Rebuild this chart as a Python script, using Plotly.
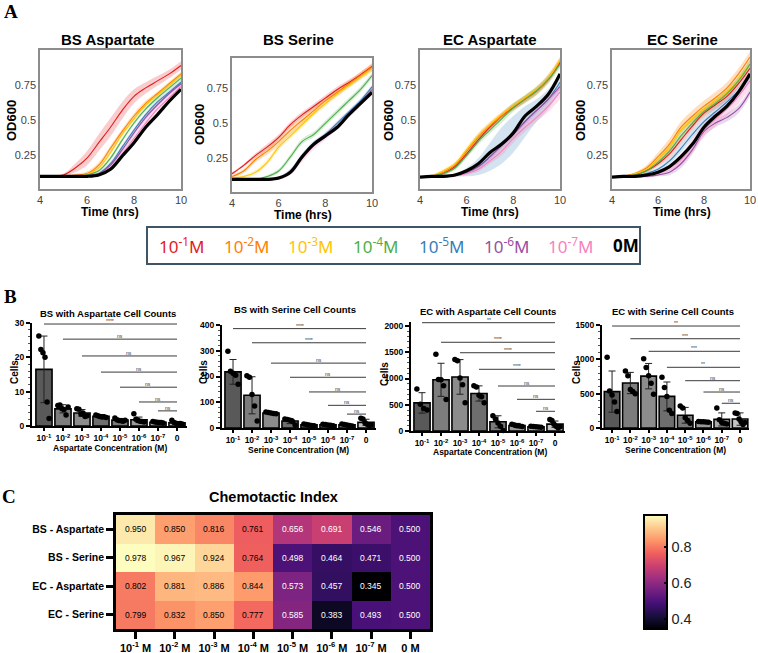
import plotly.graph_objects as go

W, H = 758, 653

# ---------------- Panel A data: growth curves ----------------
TIME = [4.0, 4.5, 5.0, 5.5, 6.0, 6.5, 7.0, 7.5, 8.0, 8.5, 9.0, 9.5, 10.0]
SERIES = ["10<sup>-1</sup>M", "10<sup>-2</sup>M", "10<sup>-3</sup>M", "10<sup>-4</sup>M",
          "10<sup>-5</sup>M", "10<sup>-6</sup>M", "10<sup>-7</sup>M", "<b>0M</b>"]
GROWTH_TITLES = ["BS Aspartate", "BS Serine", "EC Aspartate", "EC Serine"]
GROWTH_YTICKS = [0.25, 0.5, 0.75]
GROWTH_XTICKS = [4, 6, 8, 10]

BS_ASP_OD = [
    [0.10, 0.10, 0.11, 0.16, 0.23, 0.34, 0.45, 0.57, 0.67, 0.73, 0.78, 0.83, 0.89],
    [0.10, 0.10, 0.10, 0.11, 0.12, 0.18, 0.30, 0.42, 0.53, 0.62, 0.69, 0.76, 0.83],
    [0.10, 0.10, 0.10, 0.10, 0.115, 0.16, 0.27, 0.40, 0.51, 0.61, 0.68, 0.75, 0.82],
    [0.10, 0.10, 0.10, 0.10, 0.11, 0.14, 0.23, 0.36, 0.48, 0.58, 0.66, 0.73, 0.80],
    [0.10, 0.10, 0.10, 0.10, 0.105, 0.12, 0.19, 0.31, 0.43, 0.54, 0.63, 0.70, 0.77],
    [0.10, 0.10, 0.10, 0.10, 0.105, 0.12, 0.18, 0.29, 0.41, 0.52, 0.61, 0.69, 0.76],
    [0.10, 0.10, 0.10, 0.10, 0.10, 0.11, 0.16, 0.26, 0.37, 0.48, 0.58, 0.66, 0.74],
    [0.10, 0.10, 0.10, 0.10, 0.10, 0.11, 0.15, 0.245, 0.34, 0.45, 0.54, 0.635, 0.72],
]
BS_ASP_SD = [
    [0.005, 0.005, 0.01, 0.03, 0.05, 0.06, 0.065, 0.06, 0.05, 0.04, 0.035, 0.03, 0.03],
    [0, 0, 0.005, 0.01, 0.015, 0.02, 0.02, 0.02, 0.02, 0.02, 0.015, 0.015, 0.015],
    [0, 0, 0, 0.005, 0.01, 0.015, 0.015, 0.015, 0.015, 0.015, 0.015, 0.015, 0.015],
    [0, 0, 0, 0, 0.005, 0.01, 0.015, 0.015, 0.015, 0.015, 0.015, 0.015, 0.015],
    [0, 0, 0, 0, 0.005, 0.01, 0.015, 0.015, 0.015, 0.015, 0.015, 0.015, 0.015],
    [0, 0, 0, 0, 0.005, 0.01, 0.015, 0.02, 0.02, 0.02, 0.015, 0.015, 0.015],
    [0, 0, 0, 0, 0.005, 0.01, 0.02, 0.02, 0.02, 0.02, 0.015, 0.015, 0.015],
    [0, 0, 0, 0, 0, 0, 0, 0, 0, 0, 0, 0, 0],
]
BS_SER_OD = [
    [0.14, 0.20, 0.27, 0.33, 0.40, 0.49, 0.56, 0.62, 0.68, 0.74, 0.79, 0.845, 0.905],
    [0.12, 0.16, 0.24, 0.30, 0.37, 0.45, 0.52, 0.59, 0.66, 0.72, 0.78, 0.84, 0.90],
    [0.11, 0.12, 0.15, 0.22, 0.33, 0.41, 0.49, 0.57, 0.64, 0.71, 0.77, 0.83, 0.89],
    [0.10, 0.10, 0.10, 0.12, 0.16, 0.26, 0.37, 0.42, 0.50, 0.58, 0.66, 0.74, 0.84],
    [0.10, 0.10, 0.10, 0.10, 0.11, 0.16, 0.27, 0.36, 0.42, 0.50, 0.58, 0.66, 0.76],
    [0.10, 0.10, 0.10, 0.10, 0.11, 0.15, 0.26, 0.35, 0.41, 0.48, 0.57, 0.65, 0.74],
    [0.10, 0.10, 0.10, 0.10, 0.11, 0.15, 0.25, 0.34, 0.41, 0.48, 0.56, 0.64, 0.73],
    [0.10, 0.10, 0.10, 0.10, 0.11, 0.15, 0.26, 0.35, 0.41, 0.47, 0.56, 0.64, 0.72],
]
BS_SER_SD = [
    [0.01, 0.01, 0.015, 0.02, 0.02, 0.02, 0.02, 0.02, 0.02, 0.02, 0.02, 0.02, 0.02],
    [0.01, 0.015, 0.02, 0.025, 0.03, 0.03, 0.03, 0.025, 0.025, 0.025, 0.025, 0.025, 0.03],
    [0.005, 0.01, 0.015, 0.02, 0.02, 0.02, 0.02, 0.02, 0.02, 0.02, 0.02, 0.02, 0.02],
    [0, 0, 0.005, 0.01, 0.015, 0.02, 0.02, 0.02, 0.02, 0.02, 0.02, 0.02, 0.02],
    [0, 0, 0, 0.005, 0.01, 0.015, 0.015, 0.015, 0.015, 0.015, 0.015, 0.015, 0.015],
    [0, 0, 0, 0.005, 0.01, 0.015, 0.015, 0.015, 0.015, 0.015, 0.015, 0.015, 0.015],
    [0, 0, 0, 0.005, 0.01, 0.02, 0.025, 0.025, 0.025, 0.025, 0.02, 0.02, 0.02],
    [0, 0, 0, 0, 0, 0, 0, 0, 0, 0, 0, 0, 0],
]
EC_ASP_OD = [
    [0.095, 0.10, 0.12, 0.17, 0.26, 0.36, 0.45, 0.53, 0.59, 0.65, 0.71, 0.79, 0.91],
    [0.095, 0.10, 0.13, 0.18, 0.28, 0.38, 0.46, 0.53, 0.60, 0.65, 0.71, 0.80, 0.92],
    [0.095, 0.105, 0.14, 0.19, 0.29, 0.39, 0.47, 0.54, 0.60, 0.66, 0.72, 0.80, 0.93],
    [0.095, 0.10, 0.12, 0.16, 0.25, 0.35, 0.43, 0.51, 0.59, 0.65, 0.71, 0.79, 0.90],
    [0.095, 0.10, 0.10, 0.11, 0.13, 0.17, 0.24, 0.32, 0.40, 0.49, 0.57, 0.65, 0.77],
    [0.095, 0.10, 0.10, 0.11, 0.13, 0.17, 0.24, 0.32, 0.40, 0.49, 0.57, 0.65, 0.74],
    [0.095, 0.10, 0.10, 0.105, 0.12, 0.15, 0.21, 0.28, 0.37, 0.45, 0.52, 0.60, 0.70],
    [0.095, 0.10, 0.10, 0.11, 0.14, 0.19, 0.27, 0.33, 0.41, 0.53, 0.60, 0.685, 0.83],
]
EC_ASP_SD = [
    [0, 0, 0.01, 0.015, 0.02, 0.02, 0.02, 0.02, 0.02, 0.02, 0.02, 0.02, 0.02],
    [0, 0.005, 0.01, 0.015, 0.02, 0.025, 0.025, 0.025, 0.025, 0.025, 0.03, 0.03, 0.03],
    [0, 0.005, 0.01, 0.015, 0.02, 0.02, 0.02, 0.02, 0.02, 0.02, 0.02, 0.02, 0.02],
    [0, 0.005, 0.01, 0.015, 0.02, 0.025, 0.025, 0.03, 0.03, 0.03, 0.03, 0.03, 0.03],
    [0, 0, 0.005, 0.01, 0.03, 0.06, 0.10, 0.13, 0.13, 0.11, 0.08, 0.07, 0.06],
    [0, 0, 0.005, 0.01, 0.01, 0.015, 0.02, 0.02, 0.02, 0.02, 0.02, 0.02, 0.02],
    [0, 0, 0.005, 0.01, 0.01, 0.015, 0.02, 0.03, 0.03, 0.03, 0.03, 0.04, 0.05],
    [0, 0, 0, 0, 0, 0, 0, 0, 0, 0, 0, 0, 0],
]
EC_SER_OD = [
    [0.095, 0.10, 0.11, 0.14, 0.19, 0.26, 0.36, 0.46, 0.55, 0.61, 0.67, 0.76, 0.87],
    [0.095, 0.10, 0.12, 0.16, 0.24, 0.33, 0.45, 0.53, 0.60, 0.66, 0.73, 0.83, 0.95],
    [0.095, 0.10, 0.12, 0.15, 0.22, 0.31, 0.43, 0.51, 0.58, 0.64, 0.70, 0.79, 0.90],
    [0.095, 0.10, 0.11, 0.14, 0.20, 0.28, 0.39, 0.48, 0.56, 0.62, 0.69, 0.78, 0.90],
    [0.095, 0.10, 0.10, 0.12, 0.15, 0.21, 0.30, 0.40, 0.49, 0.56, 0.63, 0.71, 0.81],
    [0.095, 0.10, 0.10, 0.10, 0.11, 0.13, 0.19, 0.29, 0.42, 0.48, 0.52, 0.58, 0.70],
    [0.095, 0.10, 0.10, 0.11, 0.12, 0.16, 0.22, 0.32, 0.43, 0.51, 0.58, 0.67, 0.78],
    [0.095, 0.10, 0.10, 0.11, 0.13, 0.17, 0.24, 0.33, 0.45, 0.53, 0.60, 0.70, 0.83],
]
EC_SER_SD = [
    [0, 0, 0.005, 0.01, 0.02, 0.03, 0.03, 0.03, 0.03, 0.03, 0.03, 0.03, 0.03],
    [0, 0.005, 0.01, 0.02, 0.03, 0.04, 0.04, 0.04, 0.04, 0.04, 0.04, 0.04, 0.04],
    [0, 0.005, 0.01, 0.015, 0.02, 0.025, 0.025, 0.025, 0.025, 0.025, 0.025, 0.025, 0.025],
    [0, 0.005, 0.01, 0.015, 0.02, 0.025, 0.03, 0.03, 0.03, 0.03, 0.03, 0.03, 0.03],
    [0, 0, 0.005, 0.01, 0.015, 0.02, 0.03, 0.03, 0.03, 0.03, 0.03, 0.03, 0.03],
    [0, 0, 0.005, 0.01, 0.01, 0.02, 0.03, 0.03, 0.03, 0.03, 0.03, 0.03, 0.03],
    [0, 0, 0.005, 0.01, 0.015, 0.02, 0.04, 0.05, 0.05, 0.05, 0.05, 0.05, 0.05],
    [0, 0, 0, 0, 0, 0, 0, 0, 0, 0, 0, 0, 0],
]

# ---------------- Panel B data: cell counts ----------------
COUNT_TITLES = ["BS with Aspartate Cell Counts", "BS with Serine Cell Counts",
                "EC with Aspartate Cell Counts", "EC with Serine Cell Counts"]
COUNT_XTITLES = ["Aspartate Concentration (M)", "Serine Concentration (M)",
                 "Aspartate Concentration (M)", "Serine Concentration (M)"]
COUNT_TICKS = ["10<sup>-1</sup>", "10<sup>-2</sup>", "10<sup>-3</sup>", "10<sup>-4</sup>",
               "10<sup>-5</sup>", "10<sup>-6</sup>", "10<sup>-7</sup>", "0"]

BS_ASP_MEAN = [16.5, 5.0, 3.8, 2.8, 1.7, 1.8, 1.1, 0.9]
BS_ASP_ERR = [9.7, 1.2, 1.0, 0.5, 0.5, 0.8, 0.3, 0.4]
BS_ASP_PTS = [[26.2, 22.3, 21.3, 20.0, 7.0, 2.2], [6.0, 6.1, 5.0, 4.8, 3.2, 5.5],
              [5.0, 4.9, 3.5, 3.8, 2.8, 3.0], [3.2, 3.0, 2.8, 2.6, 2.7, 2.5],
              [2.3, 1.8, 1.6, 1.5, 1.4, 1.7], [3.6, 2.0, 1.6, 1.4, 1.3, 1.2],
              [1.3, 1.2, 1.1, 1.0, 1.0, 0.9], [1.7, 1.0, 0.8, 0.6, 0.7, 0.6]]
BS_ASP_SIG_Y = [29.7, 25.3, 20.4, 15.7, 11.3, 7.0, 4.4]
BS_ASP_SIG = ["****", "ns", "ns", "ns", "ns", "ns", "ns"]

BS_SER_MEAN = [218, 127, 58, 27, 12, 12, 12, 22]
BS_SER_ERR = [48, 72, 4, 10, 4, 4, 5, 12]
BS_SER_PTS = [[298, 220, 213, 205, 170], [203, 197, 130, 85, 27], [62, 60, 58, 56, 55],
              [35, 33, 30, 25, 12], [16, 14, 12, 10, 9], [15, 14, 12, 11, 9],
              [16, 14, 12, 10, 8], [38, 35, 20, 15, 10, 12]]
BS_SER_SIG_Y = [386, 331, 252, 197, 140, 88, 54]
BS_SER_SIG = ["****", "****", "ns", "ns", "ns", "ns", "ns"]

EC_ASP_MEAN = [535, 975, 1030, 715, 175, 105, 80, 130]
EC_ASP_ERR = [195, 315, 330, 145, 115, 40, 15, 60]
EC_ASP_PTS = [[800, 510, 430, 400], [1460, 980, 975, 860, 600], [1360, 1340, 1010, 880, 540],
              [860, 840, 680, 650, 540], [290, 230, 150, 90, 10], [130, 115, 100, 95, 85],
              [90, 85, 80, 75, 70], [220, 200, 130, 90, 60, 80]]
EC_ASP_SIG_Y = [2063, 1690, 1491, 1175, 857, 603, 375]
EC_ASP_SIG = ["**", "****", "****", "****", "ns", "ns", "ns"]

EC_SER_MEAN = [530, 655, 755, 460, 185, 90, 125, 130]
EC_SER_ERR = [300, 155, 185, 210, 115, 10, 95, 90]
EC_SER_PTS = [[1030, 540, 480, 380, 240], [830, 760, 560, 530, 500], [1010, 880, 760, 650, 490],
              [740, 590, 460, 260, 210], [320, 290, 150, 110, 70], [95, 92, 90, 88, 85],
              [290, 120, 80, 70, 60], [220, 210, 130, 90, 50, 80]]
EC_SER_SIG_Y = [1485, 1300, 1117, 884, 689, 524, 360]
EC_SER_SIG = ["**", "***", "***", "**", "ns", "ns", "ns"]

# ---------------- Panel C data: chemotactic index ----------------
CI_ROWS = ["BS - Aspartate", "BS - Serine", "EC - Aspartate", "EC - Serine"]
CI_COLS = ["10<sup>-1</sup> M", "10<sup>-2</sup> M", "10<sup>-3</sup> M", "10<sup>-4</sup> M",
           "10<sup>-5</sup> M", "10<sup>-6</sup> M", "10<sup>-7</sup> M", "0 M"]
CI = [[0.950, 0.850, 0.816, 0.761, 0.656, 0.691, 0.546, 0.500],
      [0.978, 0.967, 0.924, 0.764, 0.498, 0.464, 0.471, 0.500],
      [0.802, 0.881, 0.886, 0.844, 0.573, 0.457, 0.345, 0.500],
      [0.799, 0.832, 0.850, 0.777, 0.585, 0.383, 0.493, 0.500]]

# ---------------- styling ----------------
LINE_COLORS = ['#e41a1c', '#ff7f00', '#ffc400', '#4daf4a', '#377eb8', '#984ea3', '#f781bf', '#000000']
BAND_COLORS = ['rgba(228,26,28,0.22)', 'rgba(255,127,0,0.25)', 'rgba(255,196,0,0.25)',
               'rgba(77,175,74,0.22)', 'rgba(55,126,184,0.22)', 'rgba(152,78,163,0.22)',
               'rgba(247,129,191,0.28)', 'rgba(0,0,0,0)']
BAR_SHADES = ['#595959', '#7d7d7d', '#8c8c8c', '#6e6e6e', '#7a7a7a', '#999999', '#ababab', '#c4c4c4']
SANS = "Liberation Sans, Arial, sans-serif"
SERIF = "Liberation Serif, Times New Roman, serif"


def px(x):
    return x / W


def py(y):
    return 1 - y / H


fig = go.Figure()
layout = dict(width=W, height=H, margin=dict(l=0, r=0, t=0, b=0, autoexpand=False),
              paper_bgcolor='white', plot_bgcolor='white', showlegend=False)
annotations = []
shapes = []


def ann(x, y, text, size, color='black', family=SANS, weight='normal', angle=0, xanchor='center'):
    annotations.append(dict(x=px(x), y=py(y), xref='paper', yref='paper', text=text, showarrow=False,
                            font=dict(size=size, color=color, family=family, weight=weight),
                            textangle=angle, xanchor=xanchor, yanchor='middle'))


# ---------------- Panel A ----------------
GA_BOX = [(40, 181, 50, 189, [0.01, 1.0]), (232, 372, 58, 192, [0.01, 0.966]),
          (420, 560, 50, 189, [0.01, 1.0]), (612, 750, 50, 189, [0.01, 1.0])]
GA_OD = [BS_ASP_OD, BS_SER_OD, EC_ASP_OD, EC_SER_OD]
GA_SD = [BS_ASP_SD, BS_SER_SD, EC_ASP_SD, EC_SER_SD]
GA_TITLE_POS = [(108, 40), (298, 40), (490, 40), (682, 40)]
GA_XT_POS = [(110, 212), (303, 215), (490, 212), (682, 212)]
GA_YT_POS = [(11, 121), (200, 125), (388, 121), (580, 121)]

for i in range(4):
    k = i + 1
    xa, ya = f'x{k}', f'y{k}'
    x0, x1, yt, yb, yr = GA_BOX[i]
    od, sd = GA_OD[i], GA_SD[i]
    for s in range(8):
        if max(sd[s]) == 0:
            continue
        up = [a + b for a, b in zip(od[s], sd[s])]
        lo = [a - b for a, b in zip(od[s], sd[s])]
        fig.add_trace(go.Scatter(x=TIME, y=up, xaxis=xa, yaxis=ya, mode='lines',
                                 line=dict(width=0, shape='spline', color=BAND_COLORS[s]),
                                 hoverinfo='skip'))
        fig.add_trace(go.Scatter(x=TIME, y=lo, xaxis=xa, yaxis=ya, mode='lines', fill='tonexty',
                                 fillcolor=BAND_COLORS[s],
                                 line=dict(width=0, shape='spline', color=BAND_COLORS[s]),
                                 hoverinfo='skip'))
    for s in range(8):
        fig.add_trace(go.Scatter(x=TIME, y=od[s], xaxis=xa, yaxis=ya, mode='lines', name=SERIES[s],
                                 line=dict(width=3.2 if s == 7 else 1.1, shape='spline',
                                           color=LINE_COLORS[s])))
    layout[f'xaxis{k}'] = dict(domain=[px(x0), px(x1)], range=[4, 10], anchor=ya, tickvals=GROWTH_XTICKS,
                               showline=True, mirror=True, linecolor='#8c8c8c', linewidth=1.5,
                               showgrid=False, zeroline=False, ticks='', tickangle=0, automargin=False,
                               ticklabeloverflow='allow',
                               tickfont=dict(family=SANS, size=11, color='#444'))
    layout[f'yaxis{k}'] = dict(domain=[py(yb), py(yt)], range=yr, anchor=xa, tickvals=GROWTH_YTICKS,
                               ticktext=['0.25', '0.5', '0.75'], automargin=False,
                               ticklabeloverflow='allow',
                               showline=True, mirror=True, linecolor='#8c8c8c', linewidth=1.5,
                               showgrid=False, zeroline=False, ticks='',
                               tickfont=dict(family=SANS, size=11, color='#444'))
    ann(*GA_TITLE_POS[i], GROWTH_TITLES[i], 15, weight='bold')
    ann(*GA_XT_POS[i], "Time (hrs)", 12, weight='bold')
    ann(*GA_YT_POS[i], "OD600", 13, weight='bold', angle=-90)

# legend box
shapes.append(dict(type='rect', xref='paper', yref='paper', x0=px(147), x1=px(640), y0=py(264), y1=py(227),
                   line=dict(color='#3f5565', width=2), fillcolor='rgba(0,0,0,0)'))
LEG_X = [182, 247, 311, 376, 442, 507, 571, 626]
for s in range(8):
    ann(LEG_X[s], 245, SERIES[s], 17, color=LINE_COLORS[s], family="Noto Sans, Open Sans, sans-serif")

# ---------------- Panel B ----------------
GB_BOX = [(32, 186.5, 323, 426, [-0.63, 7.5], [0, 30], 10, 2),
          (222, 375.5, 325, 428, [-0.58, 7.5], [0, 400], 100, 20),
          (411, 564.5, 321.8, 431, [-0.58, 7.5], [0, 2080], 500, 100),
          (602, 749.2, 325, 428, [-0.55, 7.5], [0, 1500], 500, 100)]
GB_MEAN = [BS_ASP_MEAN, BS_SER_MEAN, EC_ASP_MEAN, EC_SER_MEAN]
GB_ERR = [BS_ASP_ERR, BS_SER_ERR, EC_ASP_ERR, EC_SER_ERR]
GB_PTS = [BS_ASP_PTS, BS_SER_PTS, EC_ASP_PTS, EC_SER_PTS]
GB_SIG_Y = [BS_ASP_SIG_Y, BS_SER_SIG_Y, EC_ASP_SIG_Y, EC_SER_SIG_Y]
GB_SIG = [BS_ASP_SIG, BS_SER_SIG, EC_ASP_SIG, EC_SER_SIG]
GB_TITLE_POS = [(108, 313), (295, 310), (488, 312), (673, 312)]
GB_XT_POS = [(110, 448), (298, 450), (490, 452), (675, 450)]
GB_YT_POS = [(14, 372), (203, 372), (384, 374), (576, 372)]

for i in range(4):
    k = i + 5
    xa, ya = f'x{k}', f'y{k}'
    x0, x1, yt, yb, xr, yr, dt, mdt = GB_BOX[i]
    cats = list(range(8))
    fig.add_trace(go.Bar(x=cats, y=GB_MEAN[i], xaxis=xa, yaxis=ya, width=0.85,
                         marker=dict(color=BAR_SHADES, line=dict(color='black', width=1.6)),
                         error_y=dict(type='data', array=GB_ERR[i], color='#222', thickness=1, width=3.5),
                         hoverinfo='skip'))
    px_pts, py_pts = [], []
    for c, pts in enumerate(GB_PTS[i]):
        n = len(pts)
        for j, v in enumerate(pts):
            off = -0.27 + 0.54 * j / (n - 1) if n > 1 else 0
            px_pts.append(c + off)
            py_pts.append(v)
    fig.add_trace(go.Scatter(x=px_pts, y=py_pts, xaxis=xa, yaxis=ya, mode='markers',
                             marker=dict(color='black', size=5.5), cliponaxis=False, hoverinfo='skip'))
    for j, (yv, lab) in enumerate(zip(GB_SIG_Y[i], GB_SIG[i])):
        shapes.append(dict(type='line', xref=xa, yref=ya, x0=j, x1=7, y0=yv, y1=yv,
                           line=dict(color='#3a3a3a', width=1)))
        annotations.append(dict(x=(j + 7) / 2, y=yv, xref=xa, yref=ya, text=lab, showarrow=False,
                                yshift=3, font=dict(size=5, color='#333', family=SANS)))
    layout[f'xaxis{k}'] = dict(domain=[px(x0), px(x1)], range=xr, anchor=ya, tickvals=cats,
                               ticktext=COUNT_TICKS, showline=True, linecolor='black', linewidth=2,
                               ticks='outside', ticklen=3, tickwidth=1.5, tickcolor='black',
                               showgrid=False, zeroline=False, tickangle=0, automargin=False,
                               ticklabeloverflow='allow',
                               tickfont=dict(family=SANS, size=8.5, color='black', weight='bold'))
    layout[f'yaxis{k}'] = dict(domain=[py(yb), py(yt)], range=yr, anchor=xa, dtick=dt,
                               showline=True, linecolor='black', linewidth=2, automargin=False,
                               ticklabeloverflow='allow',
                               ticks='outside', ticklen=4, tickwidth=1.5, tickcolor='black',
                               minor=dict(ticks='outside', ticklen=2, tickwidth=1, dtick=mdt,
                                          tickcolor='#555'),
                               showgrid=False, zeroline=False,
                               tickfont=dict(family=SANS, size=8.5, color='black', weight='bold'))
    ann(*GB_TITLE_POS[i], COUNT_TITLES[i], 9.5, weight='bold')
    ann(*GB_XT_POS[i], COUNT_XTITLES[i], 8.5, weight='bold')
    ann(*GB_YT_POS[i], "Cells", 10, weight='bold', angle=-90)

# ---------------- Panel C ----------------
fig.add_trace(go.Heatmap(z=CI, x=list(range(8)), y=list(range(4)), xaxis='x9', yaxis='y9',
                         colorscale='Magma', zmin=0.345, zmax=0.978, hoverinfo='skip',
                         colorbar=dict(x=px(644), xanchor='left', y=py(572), yanchor='middle',
                                       len=114 / H, lenmode='fraction', thickness=23,
                                       thicknessmode='pixels', xpad=0, ypad=0,
                                       outlinewidth=2, outlinecolor='black',
                                       tickvals=[0.4, 0.6, 0.8], ticktext=['0.4', '0.6', '0.8'],
                                       ticks='inside', ticklen=4, tickwidth=2, tickcolor='black',
                                       tickfont=dict(family=SANS, size=14.5, color='#222'))))
for r in range(4):
    for c in range(8):
        v = CI[r][c]
        annotations.append(dict(x=c, y=r, xref='x9', yref='y9', text=f"{v:.3f}", showarrow=False,
                                font=dict(size=8.5, family=SANS, color='black' if v > 0.7 else 'white')))
layout['xaxis9'] = dict(domain=[px(116), px(430)], range=[-0.5, 7.5], anchor='y9', tickvals=list(range(8)),
                        ticktext=CI_COLS, showline=True, mirror=True, linecolor='black', linewidth=2.5,
                        ticks='outside', ticklen=7, tickwidth=2.5, tickcolor='black', automargin=False,
                        ticklabeloverflow='allow',
                        showgrid=False, zeroline=False, tickangle=0,
                        tickfont=dict(family=SANS, size=11, color='black', weight='bold'))
layout['yaxis9'] = dict(domain=[py(629), py(515)], range=[3.5, -0.5], anchor='x9', tickvals=list(range(4)),
                        ticktext=CI_ROWS, showline=True, mirror=True, linecolor='black', linewidth=2.5,
                        ticks='outside', ticklen=7, tickwidth=2.5, tickcolor='black', automargin=False,
                        ticklabeloverflow='allow',
                        showgrid=False, zeroline=False,
                        tickfont=dict(family=SANS, size=10.5, color='black', weight='bold'))
ann(273, 497, "Chemotactic Index", 14.5, weight='bold')

# panel letters
ann(11, 12, "A", 19, family=SERIF, weight='bold')
ann(10, 296, "B", 19, family=SERIF, weight='bold')
ann(9, 496, "C", 19, family=SERIF, weight='bold')

layout['annotations'] = annotations
layout['shapes'] = shapes
fig.update_layout(**layout)
fig.write_html("out.html")
